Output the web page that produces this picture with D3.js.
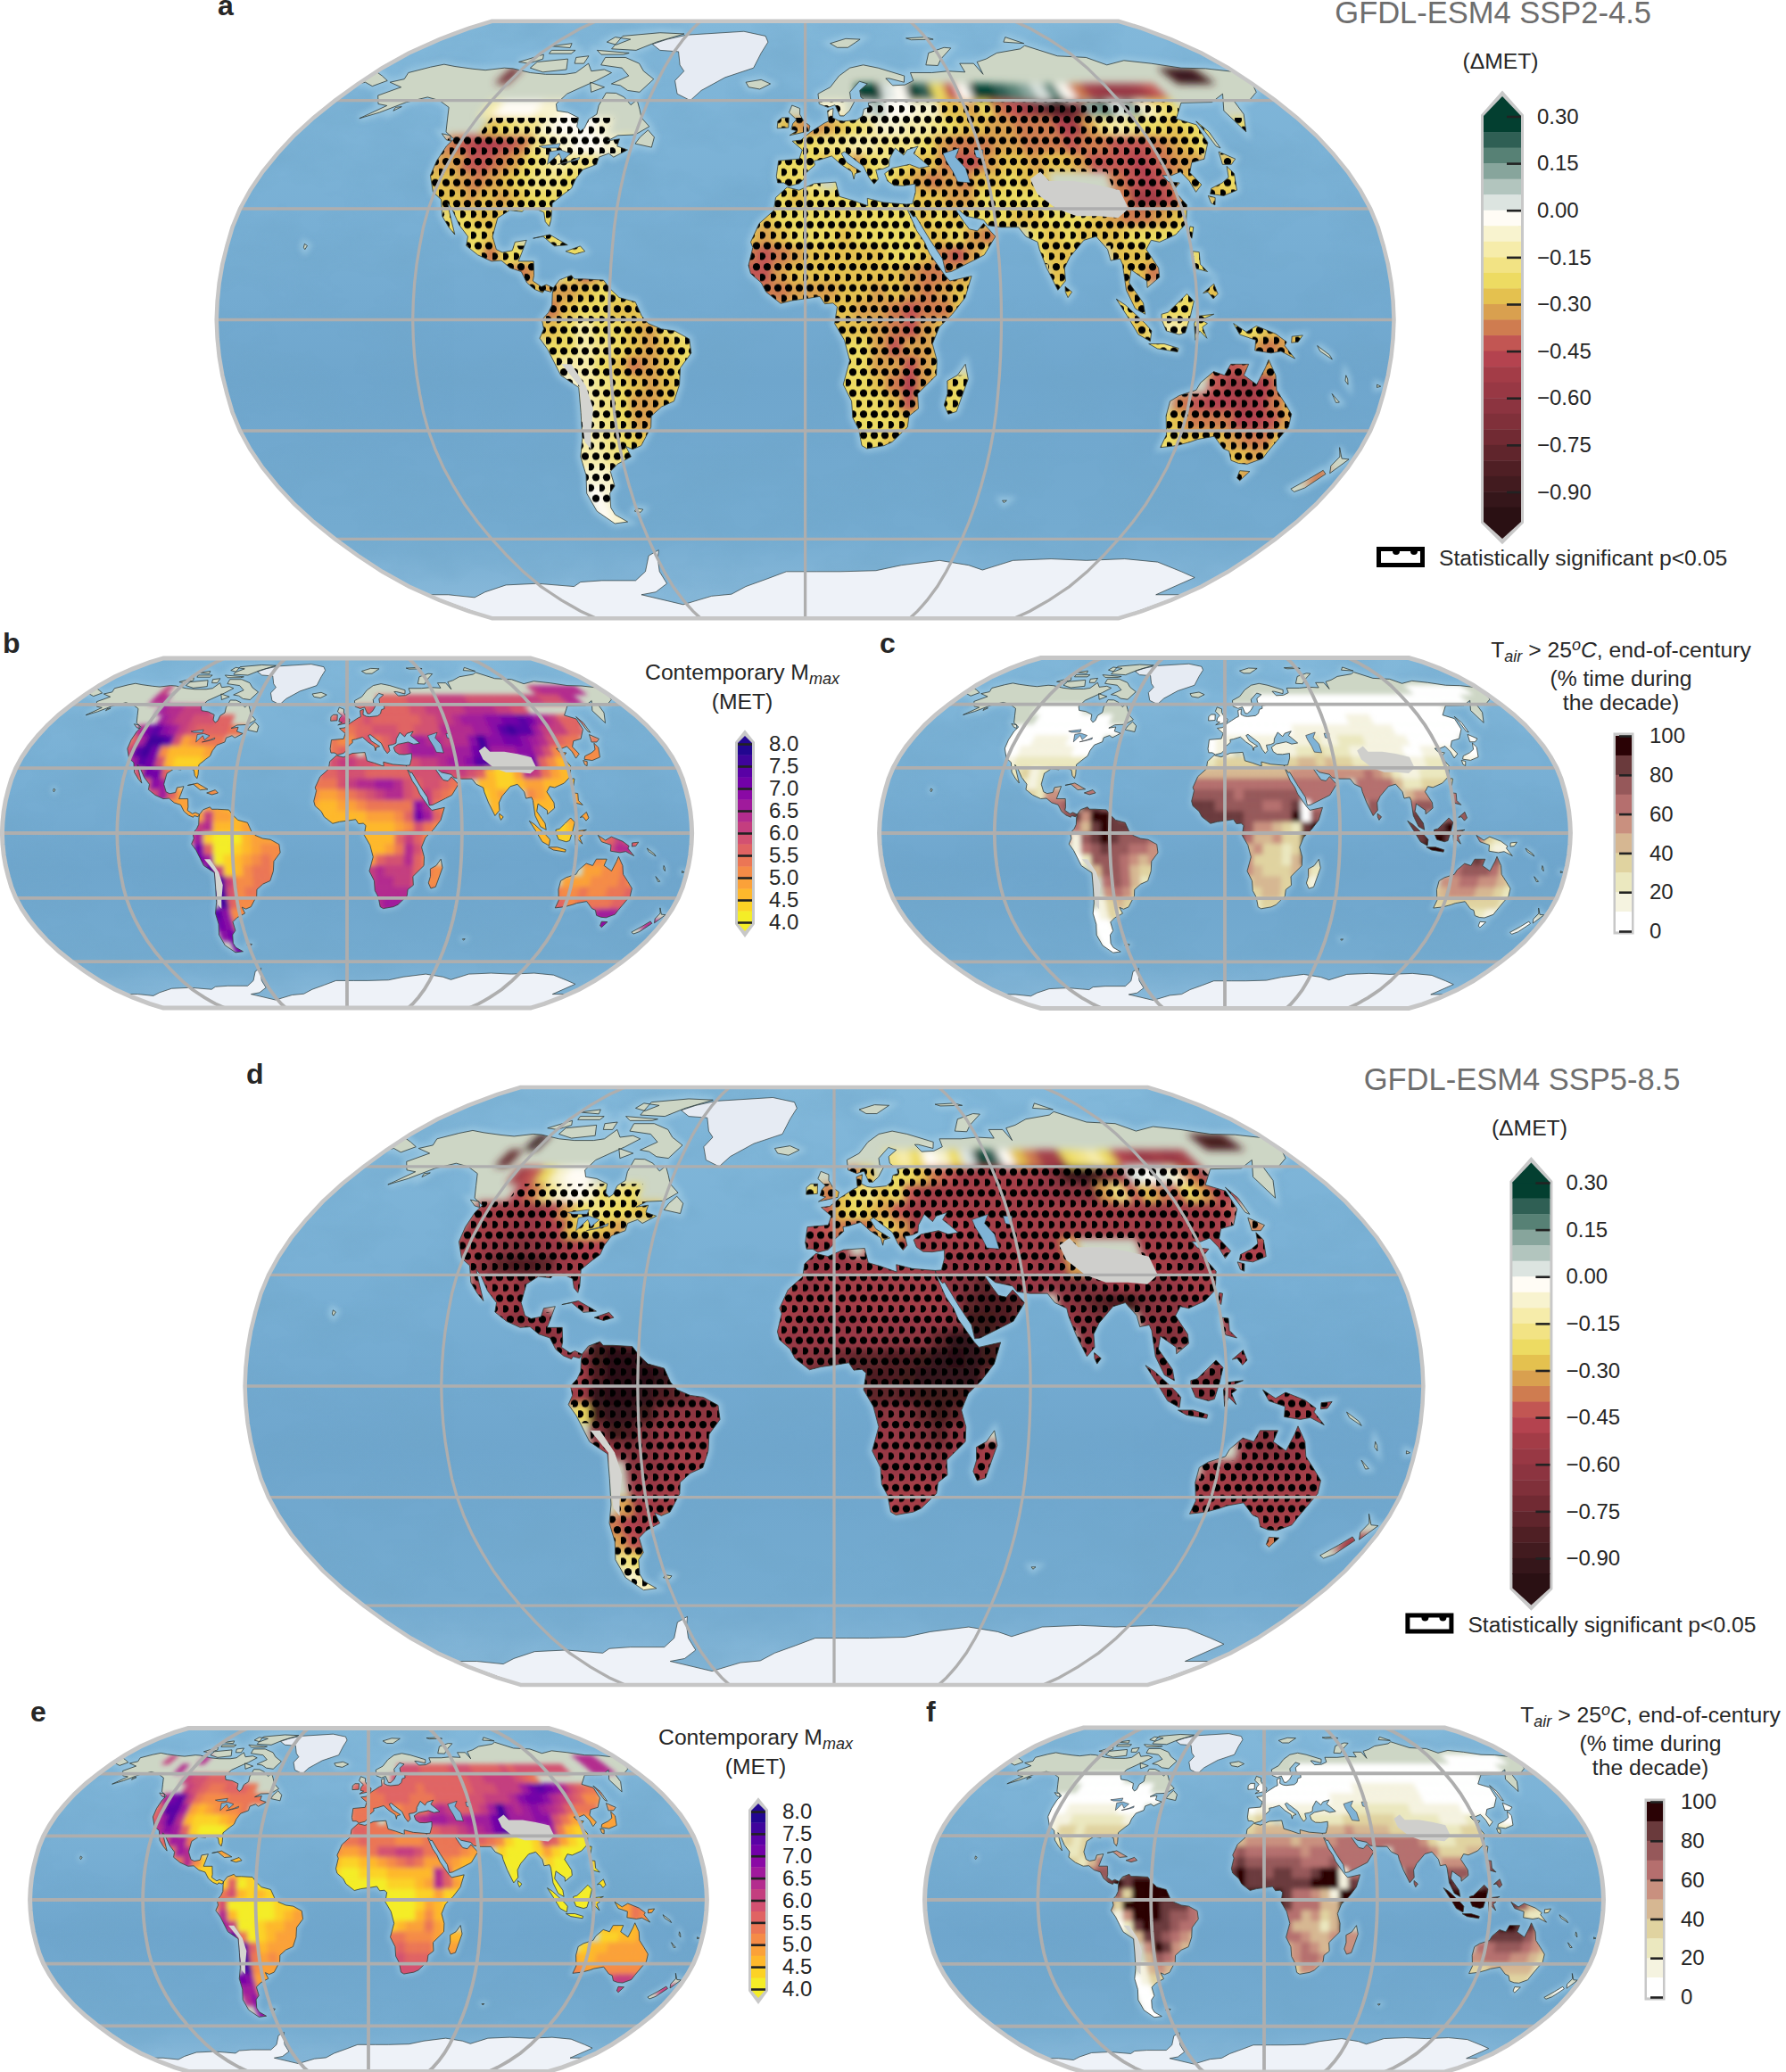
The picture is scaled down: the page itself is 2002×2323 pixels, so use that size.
<!DOCTYPE html>
<html><head><meta charset="utf-8">
<script src="https://cdnjs.cloudflare.com/ajax/libs/d3/7.8.5/d3.min.js"></script>
<style>html,body{margin:0;background:#fff}svg{display:block}text{font-family:"Liberation Sans",Arial,sans-serif;fill:#262626}</style>
</head><body><svg id="c" width="2002" height="2323"></svg>
<script>
// ---------- coastlines (lon, lat) ----------
const northAmerica=[[-168,65.5],[-164,66.5],[-166,68.5],[-160,70.3],[-156,71.2],[-150,70.5],[-141,69.7],[-135,69.3],[-128,70],[-124,69.8],[-115,68.5],[-108,68],[-100,68],[-96,68.5],[-94,71.5],[-90,69],[-85,69.5],[-81,68.5],[-85,66],[-87,65],[-93,62],[-94.5,59],[-92.5,57],[-88,56.5],[-83,55],[-82,52.5],[-80,51.2],[-79,52],[-79,54.5],[-77,56],[-78,58.5],[-78,62.3],[-74,62.2],[-70,61],[-66,58.7],[-64.5,60.2],[-62,57.5],[-60,55],[-56,52.5],[-60,50.2],[-66,50],[-69,48.5],[-65,49],[-65,47],[-61,46],[-65,44],[-67,45],[-70,44],[-70,42],[-74,40.6],[-75.5,38],[-76,35.5],[-78,34],[-81,31.5],[-80.3,27],[-80.5,25.2],[-82,26.5],[-83,29],[-85,29.7],[-89,30.2],[-90,29.2],[-94,29.6],[-97.3,27.5],[-97.8,22.5],[-96,19],[-94,18.2],[-91,18.7],[-90.5,21],[-87,21.5],[-88,18],[-88.7,15.8],[-84,15.8],[-83.5,12],[-83.7,10.5],[-81,8.9],[-79.5,9.5],[-77.3,8.6],[-78,7.5],[-80,8],[-80.5,7.3],[-83,8.2],[-85.5,10],[-87.5,13],[-91,14],[-94,16],[-97,15.8],[-101.5,17.5],[-105.5,20],[-105.5,22.5],[-109,25.7],[-112.5,30],[-114.5,31.5],[-113,29],[-109.7,23],[-112,25],[-115,28],[-117,32.5],[-120.5,34.5],[-123.8,39],[-124.3,43],[-124,47],[-123,49],[-127.5,51],[-130.5,54.5],[-134,58],[-140,60],[-146,61],[-152,59.5],[-158,56.5],[-163,54.8],[-158,58.5],[-162,59],[-166,61.5],[-161,64]];
const southAmerica=[[-77.3,8.6],[-75.5,10.8],[-72,12],[-71,11],[-68,11],[-62,10.7],[-60,8.5],[-57,6],[-52,4.8],[-50,1],[-48,-1],[-44,-2.5],[-40,-3],[-35.5,-5.2],[-35,-9],[-38.5,-13],[-39,-17.5],[-41,-22],[-45,-23.5],[-48.5,-26],[-49,-29],[-53,-34],[-56,-35],[-58,-34.2],[-57,-37],[-62,-39],[-65,-41],[-65,-45],[-67.5,-47],[-69,-51],[-68.5,-53],[-65,-55],[-70,-55.5],[-74.5,-52],[-75.5,-47],[-73.5,-42],[-73.5,-37],[-71.5,-32],[-70.5,-25],[-70.3,-18.3],[-75.5,-15],[-79,-8],[-81.3,-5],[-80,-2.5],[-80.5,0],[-78.5,2],[-77.5,4],[-77.5,7]];
const africa=[[-5.9,35.8],[-2,35],[3,36.8],[10,37.2],[11,33.3],[15,32.3],[20,30.8],[20,32.8],[25,31.7],[32.3,31.2],[32.5,29.8],[35,24],[37.2,21],[38.5,18],[43,12],[44.5,10.5],[51.2,11.8],[49,6],[45,1.5],[41,-2],[39,-6.5],[40.5,-11],[40.5,-15],[35,-20],[35.5,-24],[32.7,-26],[32.5,-29],[28,-33],[25.5,-34],[20,-34.8],[18.3,-34],[17,-29.5],[15,-26.5],[14.5,-22],[11.8,-17.5],[13.7,-11],[12,-5.5],[9,-1],[9.8,3.5],[8.5,4.5],[6,4.3],[4.5,6.3],[1,5.8],[-4,5.2],[-7.5,4.4],[-12,7.5],[-13.5,10],[-16.8,12.5],[-17.5,14.7],[-16.3,19.5],[-17,21],[-14.5,26],[-10,29.5],[-9.5,33]];
const eurasia=[[-9,37],[-9.5,38.8],[-9,43],[-2,43.5],[-1,46],[-4.5,48.4],[-1.5,48.7],[2,51],[4,52],[7,53.5],[8.5,54],[8.3,57],[10.5,57.7],[10,55],[12,54.2],[14,54],[19,54.4],[21,55.5],[22,57.5],[24,58],[24,59.3],[29,59.9],[23,60],[21.5,61],[21.5,63],[25,65],[22,65.8],[17.5,62.5],[17.5,60.5],[18.8,59.7],[16.5,57],[14.2,55.5],[12.8,55.5],[11.3,58.7],[8.5,58],[5.3,59],[5,62],[10,64],[14,67.5],[19,70],[25,71],[31,70],[41,67.5],[40,65.5],[34.5,66.7],[33,66.7],[35,64.5],[40,64.7],[44,66],[44,68.5],[53,68.5],[60,69],[67,68.7],[67,71.5],[73,71.5],[74,68],[75,72],[80,73],[87,75],[100,76.5],[104,77.7],[113,74],[125,73.5],[130,71],[140,72.5],[150,71.5],[160,70],[170,69.8],[180,68.8],[180,65],[177,62.5],[170,60],[164,60],[162,56],[156.5,51],[156,57],[163,62],[155,59.5],[143,59.3],[135.5,54.7],[141,53],[140,48],[135,43.5],[130,42.5],[127.5,39.8],[129.4,36.5],[126.5,34.5],[126,37.5],[124.5,40],[121,39],[118,39],[119,37.3],[122.5,37],[119.5,35],[122,31],[120,26],[116,23],[110.5,21],[108,21.5],[106,19],[109,14],[109,11.5],[105,8.7],[105,10.5],[100.5,13.5],[99.5,10],[103.5,4.5],[104,1.5],[101,3],[98.5,8],[98,15],[97.5,16.5],[94.5,16],[94,19],[91,22.5],[87,21.5],[82,17],[80,14],[80,10.5],[77.5,8],[74.5,14],[72.8,19],[72.5,21],[69,22.5],[67,25],[61.5,25],[57.5,25.5],[56.3,27],[51,28],[48.5,30],[48,29.5],[50,26.5],[51.5,24.5],[54,24],[56.2,26],[59.5,22.5],[55.5,17.5],[52,16],[45,13],[43.3,12.8],[42.5,16.5],[39,21.5],[35,28],[34.2,27.8],[32.6,30],[32.3,31.2],[34.3,31.3],[35.7,34.5],[36,36.7],[32,36.2],[29,36.3],[27,37.5],[26.3,39.5],[29,41],[35,42],[38,41],[41.5,41.5],[39,43.5],[37,45],[39,47],[35,46],[33.5,44.5],[31,46.5],[28.5,43.5],[28,41.5],[26,40.8],[23.5,40.5],[24,38],[22.5,36.7],[21,38.5],[19.5,41.5],[15,44.5],[13.5,45.5],[12.3,45],[14,42.5],[18.5,40],[16.5,39.5],[16,38],[15.5,40],[12,42],[9,44.3],[5,43.3],[3,43],[3.2,41.8],[0,39.5],[-0.5,38],[-2,36.8],[-5.3,36.1],[-7,37]];
const australia=[[114,-22],[116.5,-20.5],[121.5,-19],[122.5,-17],[126,-14],[129.5,-15],[131,-12],[136.5,-12],[135.5,-15],[140,-17.5],[141.8,-13],[142.5,-10.8],[145.3,-15],[146.5,-19],[150,-22.5],[153,-25.5],[153.5,-29],[150.5,-35.5],[150,-37.5],[146,-39],[143,-38.8],[140,-38],[137.8,-35.5],[135.5,-34.8],[131,-31.5],[126,-32.3],[124,-33],[120,-34],[115,-34.5],[115.5,-31],[113.7,-26]];
const islands=[
[[-80,73.5],[-72,71.5],[-68,69],[-62,66.5],[-65,62.5],[-70,63],[-74,64.5],[-78,65],[-73,67.5],[-78,70],[-88,71],[-89,73.5]],
[[-117,72],[-105,73],[-101,69.5],[-110,68.7],[-117,70]],
[[-90,76.5],[-78,76],[-72,79],[-62,82.5],[-75,83],[-92,81.5]],
[[-125,72],[-118,74.5],[-116,73],[-120,71.5]],
[[-96,76],[-80,75],[-82,74.5],[-92,74.5]],
[[-117,76],[-106,76],[-106,74.8],[-116,74.8]],
[[-87,65.5],[-80,64],[-84,62.5]],
[[-102,73.5],[-97,74],[-96,71.5],[-100,71.5]],
[[-95,81],[-86,80],[-90,78],[-96,79]],
[[-120,77.5],[-112,78.5],[-110,76.9]],
[[-154,58],[-152,58.2],[-153.5,57]],
[[-180,68.8],[-175,67.5],[-170,66],[-173,64.3],[-178,65.5],[-180,65]],
[[50,80.5],[60,81],[63,80],[52,79.8]],
[[-59,47.7],[-53,46.7],[-53,49.5],[-56,51.5],[-58,49.5]],
[[-85,22],[-80,23],[-74,20.2],[-78,19.9],[-82,22.5]],
[[-74.4,18.5],[-70,19.9],[-68.4,18.5],[-71.5,17.7]],
[[-156,20.5],[-155,20],[-155.5,19],[-156,19.5]],
[[-128.5,50.5],[-125,50],[-123.5,48.4],[-125.5,48.8]],
[[-60,-51.2],[-57.8,-51.5],[-59,-52.3],[-61,-52]],
[[49.3,-12],[50.4,-16],[47.5,-24.8],[45,-25.5],[43.5,-23],[44.3,-20],[44,-16.5],[47,-15]],
[[-5.5,50],[1.3,51.2],[1.7,52.7],[-0.5,54],[-2,56],[-2,57.7],[-5,58.6],[-6,56.5],[-3.2,54.5],[-4.5,53.3],[-5,51.7],[-3,51.3]],
[[-10,52],[-6,52.2],[-6,55],[-8.5,55],[-10,54]],
[[-24,65.5],[-18,66.3],[-14,65],[-18,63.4],[-22.5,64]],
[[12,78.5],[20,80.3],[27,80],[20,77],[15,77]],
[[52,71],[57,70.8],[60,73],[68,76.8],[65,77],[56,75]],
[[96,79],[105,78.5],[100,81]],
[[142,54],[143.3,51],[143,46.5],[142,47],[142,51]],
[[130.9,34],[135,33.5],[140,35],[142,39.5],[141,41.5],[139.5,38.5],[136.5,37],[132,35.5]],
[[140,42],[141.5,45.5],[145.5,43.5],[143,42]],
[[130,33.5],[132,33],[131,31],[130,31.5]],
[[120,23],[121,25.2],[122,25],[120.8,22]],
[[79.8,9],[81.8,7.5],[80.5,6],[79.8,7.5]],
[[95.3,5.6],[98,4],[104,-1],[106,-3],[105.7,-5.8],[102,-4],[98.5,1]],
[[105.3,-6.5],[110,-6.5],[114.5,-7.7],[114.3,-8.7],[108,-7.8]],
[[109,1.5],[111,2],[114,4.5],[117,7],[119,5],[117.8,1],[116.3,-3.5],[114.5,-4],[110.5,-3],[109,0]],
[[119.5,-5.5],[119,-1],[120,1],[125,1.5],[121,0],[123,-1],[121.5,-2],[123,-5],[120.7,-3]],
[[120.3,18.5],[122.3,18.3],[122,15],[124,13],[120.7,13.8],[120,16]],
[[122,7.2],[125.5,9.7],[126.5,7],[125,5.7],[123.5,7.5]],
[[131,-1],[135,-3.3],[138,-1.7],[144,-3.8],[147.5,-6],[147,-7],[150.5,-10.5],[146,-8.5],[143,-9],[138,-8.3],[138,-5.5],[133,-4]],
[[144.8,-40.8],[148.3,-41],[147,-43.5],[145.5,-42.8]],
[[173,-34.5],[176,-37.5],[178.5,-37.7],[175.5,-41.5],[174,-39.5],[175,-37]],
[[172.5,-40.7],[174.3,-41.7],[171,-45.5],[168.5,-46.6],[166.5,-45.8],[170,-43]],
[[149,-4.5],[152.3,-4.2],[151,-6],[149,-6.2]],
[[157,-7],[161,-9.5],[162,-10.7],[158,-8.5]],
[[164,-20],[167,-22.3],[166,-22.4]],
[[167,-15],[167.8,-16],[168.3,-17.5],[167.2,-16.5]],
[[177.3,-17.5],[178.6,-18],[177.5,-18.3]],
[[69,-49],[70.5,-49],[69.8,-49.6]]
];
const greenland=[[-73,78.2],[-67,76],[-58,75.5],[-54,71],[-51,69],[-53,66],[-50,62],[-44,60],[-41,63],[-33,67],[-22,70],[-20,75],[-18,79],[-20,81.5],[-32,83.6],[-60,82],[-68,80]];
const antarctica=[[-180,-78],[-170,-78],[-160,-79],[-150,-77],[-135,-74.5],[-120,-74],[-105,-75],[-100,-73.5],[-90,-73],[-75,-73],[-68,-70],[-63,-65],[-58,-63.3],[-60,-66],[-62,-70],[-62,-74],[-70,-77],[-78,-78],[-62,-82],[-45,-78.5],[-35,-77.8],[-27,-75],[-17,-72.5],[-8,-70],[5,-70],[15,-70],[30,-69.7],[40,-68],[55,-66.5],[68,-68],[75,-69.5],[85,-66.5],[100,-66],[115,-66.5],[130,-66],[145,-67],[160,-70],[170,-72],[167,-78],[180,-78],[180,-90],[-180,-90]];
const inlandWater=[
[[47,45],[53,46.5],[51,44],[53.5,41],[54,37],[50,37.3],[49,40],[47.5,43]],
[[58,46],[61,46],[60,43.5],[58,44]],
[[-92,47],[-85,47.8],[-85,46.5],[-90,46.5]],
[[-87.5,45.5],[-84,46],[-80,45],[-82,43],[-84,45],[-86.5,42]],
[[-83,42],[-79,43],[-76.5,44],[-76.5,43.3],[-80,42.5]]
];
const tibet=[[74,38],[78,40],[80,37.5],[88,37.5],[95,36.5],[102,35],[103,30],[99,27.5],[93,28],[86,28],[80,30],[75,34]];
const andes=[[-75,-12],[-72,-12],[-68,-18],[-66.5,-24],[-68.5,-31],[-69.5,-35],[-71,-33],[-70.5,-26],[-70,-18]];

// ---------- cell values: "topLat lon:letters ..." on a 5 degree grid ----------
const cellsA=["70 -125:u 150:xyx","65 20:aafgab 50:kogaabcdfcgnqrrrqo","60 -120:iggghhg 5:hh 20:fegghhllmknoqtwwtdcfdhjk","55 -115:lkjjhgggh -10:lmnmlkjhhiijkllmmnnnpqmjijkklkk 155:k","50 -125:nopponjihgghi -5:kkjjiijjjkmnnnmmnnnonnooonmlk","45 -125:mmoonmkjijj -10:kkklkmkjkllnoomllmllmoooponmm 140:l","40 -125:llmnmlkjjkk -10:kkj 10:kkkklmnmnllkll 100:nopomllkk","35 -120:llmlmlkkk -10:klkkkkkkkllmmkkkkk 100:nqqom 130:ll","30 -115:kkllkkkl -15:lkkkkkkkkklklkkkllkkklmnnmlk","25 -115:kkklk -85:kkk -20:lmlkkklkkkkllkmnm 70:klklllkkk 115:kk","20 -105:knkkl -75:kk -20:nonmlllllkklnomk 70:kllk 95:lllk 120:k","15 -95:mnm -75:kom -20:oomlllllllmnnml 75:ll 95:lln 120:kk","10 -85:lm -75:mlkkk -15:nnmmmllmlmnmll 75:kl 95:ml 115:kll","5 -80:nlkkllk -10:mlmllmmnonnl 95:klkkkkl","0 -85:llkikklmkj 5:lllmnoml 95:kljijk 130:kklmk","-5 -80:kkijklmlkk 10:kkmommk 100:kkjjk 130:kmnmk","-10 -80:jiiklnmlkk 10:kkmmomk 105:kkkkoonmlk","-15 -75:hijklmlk 10:kklnpml 45:kk 125:oqqpn","-20 -70:ijkmmlk 10:kkklol 40:kk 115:noppqpnl","-25 -75:hijkmmk 10:kkkklk 40:kl 110:klnnnppom","-30 -75:iijklk 15:kkll 110:kklllmnnl","-35 -75:iijkj 15:kkmk 115:ijjkllmk","-40 -75:hhij 140:kmk 170:n","-45 -75:ghi 145:k","-50 -75:ghi","-55 -75:hh"];
const cellsB=["70 -130:i 130:ijjjjjj","65 -130:jj 20:gggghhhhiiiihhhhhhhhiihhh 145:jj","60 -120:kjjiiii 5:ggh 20:gggghhiiiiijjjjiihh","55 -115:kjiihhhgg -10:gigghgggggghhiijkkkllmmnmkjiggg","50 -125:jmnlkihggggff -5:ffgghhhgghhhjjjjkklnonnkiiigg","45 -125:gkoonhdefff -10:feeghfghikkjjijjlollmmlkjhgff 140:f","40 -125:hnomeccccde -10:fgg 10:ffghikkkjjkkmo 80:kkkl 100:ljheeeeee","35 -120:knmhcbbbc -10:hiihhgggghiijkklnn 100:mgecc 130:ee","30 -115:hmmgcccc -15:gghhhggggghhhihihgcbbdjifdcc","25 -115:eglkd -85:ddd -20:fffhijjkkjhghhgff 70:ccbbcddcc 115:cc","20 -105:hkgdd -75:ee -20:eddefghijjhgigfe 70:bcdc 95:edcc 120:d","15 -95:ddd -75:ddc -20:dccddefffffljfe 75:cc 95:ccc 120:dd","10 -85:dd -75:iddcc -15:cccccdddegmkge 75:cc 95:cc 115:ddd","5 -80:ijcccdd -10:cccccccdehfe 95:cccbcdd","0 -85:hkbaaacddd 5:ccccgige 95:cccbbd 130:egigf","-5 -80:mgaabcdeee 10:ccdfjhe 100:cdccd 130:ehjjg","-10 -80:mkabcdefee 10:dghhjge 105:cdddeedeff","-15 -75:oibceffe 10:ijiiigf 45:ee 125:ddeef","-20 -70:oieefff 10:ijjiig 40:ee 115:dddeeefe","-25 -75:ooheffe 10:jjjjjh 40:ff 110:feefeeffg","-30 -70:ogeee 15:jkkj 110:fgeffffgg","-35 -75:nleed 15:ijji 115:ihhhjkkj","-40 -75:mlfe 140:klk 170:jj","-45 -75:lmi 145:j","-50 -70:mk","-55 -70:m"];
const cellsC=["70 130:aaaaaaaa","65 20:aaaaaaaaaaaaaaaaaaaaaaaaaaaa","60 -120:aaaaaa 5:aaa 20:aaaaaaaaaaaaaaaaaaaaaaaa","55 -115:aaaaaaaaa -10:aaaaaaaaaaaaaaaaabbbaaaaaaaaaaaaa","50 -125:aaaaaaaaaaaaa -5:baaaaaaaabbbbbbbbbbbbaaaaaaaaaaa","45 -125:aaabbbbaaaa -10:abbbbbbbbbbbcbbcccbbbbbaaaaaa 140:a","40 -125:aabbbbbbaaa -10:abb 10:bbbbbbccdcccbb 80:bbbb 100:aabbbbbaa","35 -120:bcccccccc -10:cdddddddddeededdc 75:c 100:bbccc 130:bb","30 -115:cdbcdddd -15:eeeeeeeeeeffffffffgfecbbcccd","25 -115:dcbce -85:fff -20:ggggggggggggggggf 70:ggggeccdd 115:dd","20 -105:dcfff -75:gg -20:hhhhhghhhhhhgggg 70:gggg 95:efff 120:g","15 -95:ggh -75:iih -20:iiihhhhhgghiagg 75:hh 95:ghh 120:hh","10 -85:hi -75:fjjih -15:iiiiihhhhhjahh 75:hh 95:ii 115:hhh","5 -80:geijiii -10:iihihffedcij 95:iiiijhh","0 -85:fbhijihhhg 5:igeefddj 95:iijjig 130:gdcbc","-5 -80:bghihhggff 10:efddcdj 100:jjjih 130:fcbbc","-10 -80:achhhgfefe 10:fdddcei 105:jjighihhed","-15 -70:ehhgedd 10:fedddee 45:cc 120:ghhhge","-20 -65:ghgecd 10:deeedd 40:cb 115:ffggffed","-25 -65:fgfdc 10:cdeedc 40:cb 110:defffeedc","-30 -70:bdedc 15:cddc 110:cdddddddc","-35 -75:abdcc 15:bcbb 115:bcccccbb","-40 -75:aabb 140:baa 170:aa","-45 -75:aaa 145:a 165:aaa","-50 -75:aaa","-55 -75:aa"];
const cellsD=["70 -125:y 150:wxw","65 -130:v 20:jikgh 45:kfa 60:bgk 70:lnqq 90:kj 100:ik 110:pqrqrq","60 -120:qokhgg 5:nl 20:kklnoqqqqqqrtxyxtqfgfhnq","55 -115:pnjhghkjk -10:knlkjlkoqqqqqqqqrrsstmjolnokmpq","50 -125:qqqqrpmkjkkll -5:olklmoqqqqqqqqqqqqqqqqqrqqqqo","45 -125:qqqrrqplklm -10:ponpnkmqqqpqqqqqqqqqqqqrqqqqp 140:n","40 -125:qqrstsrqppo -10:qqq 10:omqqqqqqrqqqqm 100:qqqqqqppq","35 -120:qsvwwvrqq -10:rrrqqrqqrrrrrqqrqm 100:qqrrq 130:qq","30 -115:qqqssrrq -15:qrqqqqqqqqstvvsrrstsrqrsrqqq","25 -115:pqqrr -85:rrr -20:pqqqqqqqqqqrvwwvt 70:stvwxtssrqq","20 -105:rsrrr -75:sr -20:pqrrrrqrrrrsxxwv 70:rstt 95:sssr 120:r","15 -95:ssr -75:wxv -20:qrrrrrrsssvyyxw 75:ss 95:sts 120:rr","10 -85:rs -75:xzzyw -15:sstuvvwwxyzyxw 75:rr 95:tt 115:ssr","5 -80:qwzzzyw -10:vvvwwwxyyyyv 95:sssstrq","0 -85:rqyzzywvts 5:vvvwxxxw 95:stsssr 130:qqqqq","-5 -80:kxyyxtsssr 10:tstvxvs 100:ssrrr 130:qqqqq","-10 -75:txwtrrrrq 10:rrstvsr 105:rrrr 125:sssrqq","-15 -75:qstsrqqq 10:rrrstrr 45:qq 125:rssrq","-20 -65:ssrqqq 10:qrrrsq 40:qq 115:qqrrrrqq","-25 -65:rrqqq 10:qqqqqq 40:qq 110:qqqqqqqqq","-30 -70:mqqqp 15:pqqq 110:qqqqqqqqq","-35 -75:npqpl 15:mopo 115:nopqqqqp","-40 -75:moql 140:onm 170:qq","-45 -75:jkm 145:k","-50 -75:hil","-55 -75:hh"];
const cellsE=["70 -145:i -120:j 150:jjj","65 -130:j 20:hhhgggghhhgggghghhhhhhh 150:jjj","60 -120:ihhgggg 15:h 20:ggggggggghhiiiihgf","55 -115:ihgffgggf -10:ggfgggggfgggggghhhiiikmnmljhgfff","50 -125:jmnifeeefffff -5:fffgggfffgggghhiiijlmmljihgee","45 -125:gnnkdcdeeef -10:fffffefffijigghikokjklkjigfff 140:e","40 -125:gknjcbbbcde -10:fff 10:eefijkkjjkkkmo 80:kkkl 100:lhfdddddd","35 -120:jlkgbaaab -10:ggfffefffghhijjkmn 100:kfcbb 130:dd","30 -115:gkkfbbbc -15:ffgfffeeeffffgggfebaabhgdbab","25 -115:dfkjc -85:ddc -20:eddefhhiihffffedd 70:baaabdbaa 115:ab","20 -105:fjebb -75:cc -20:cbbccdefgfddedcc 70:aaaa 95:baaa 120:b","15 -95:bbb -75:cbb -20:baabbbcccccjgcb 75:aa 95:aaa 120:ab","10 -85:bb -75:gabaa -15:aaaaabbbcdjgdb 75:aa 95:aa 115:aab","5 -80:fhcbcbb -10:aaaaaaabbdbb 95:aaaaaab","0 -85:dhaaaaabbc 5:aaaabdcb 95:aaaaab 130:cdfec","-5 -80:jcaaaabcdd 10:aaacecb 100:aaaab 130:cdfed","-10 -80:kiaabccddc 10:bcddfdc 105:bbbbccbcdd","-15 -75:nfabcddd 10:ffeeedc 45:cc 125:bbccd","-20 -70:ngcdddd 10:fgfffd 40:dd 115:bccddddd","-25 -75:mofdedd 10:ghggge 40:ee 110:dccdddddd","-30 -70:oeddd 15:hhhg 110:eeddeeeee","-35 -75:mlddc 15:hhig 115:hggfhiih","-40 -75:kked 140:iii 170:ii","-45 -75:jlg 145:h","-50 -70:lj","-55 -70:l"];
const cellsF=["70 130:aaaaaaaa","65 20:aaaaaaaaaaaaaaaaaaaaaaaaaaaa","60 -120:aaaaaa 5:aaa 20:aaaaaaaaaaaaaaaaaaaaaaaa","55 -115:aaaaaaaaa -10:aaaaaaaaaaaaabbbbbbbbaaaaaaaaaa","50 -125:aaaaaaaaaaaaa -5:baaaaaaaabbbbbbbbbbbaaaaaaaaaaa","45 -125:aabbbbbbaaa -10:abbbbbbbbbbbcccccccbbbbbbaaaa 140:a","40 -125:abbccccccbb -10:cdc 10:cccccccddddddc 80:cccc 100:bbbcbbbaa","35 -120:bddcddddd -10:deeeeeeeeeefeeeedd 100:ccddd 130:cc","30 -115:cdcdeeee -15:efffffeffffgggggggggfdccdddd","25 -115:dccde -85:ffg -20:ghggggggfgggggggg 70:ggggfddde 115:ee","20 -105:dcegg -75:gg -20:hihhhhhhggghgggg 70:gggg 95:ffff 120:h","15 -95:ghh -75:iii -20:ijiihiihhijjbgg 75:hh 95:hhh 120:ih","10 -85:ij -75:ijjjj -15:jiiiiiiijjjbii 75:hh 95:ji 115:iih","5 -80:hdjjjjj -10:jjijiggfebjj 95:jjjjjih","0 -85:hdjjjjiiig 5:jigggeej 95:jjjjjh 130:ihecd","-5 -80:bfjjjihhgf 10:ggefdej 100:jjjji 130:hdccd","-10 -80:acijiihgge 10:geeecei 105:jjjhjjiife","-15 -70:eiihgfe 10:ggfeeff 45:ff 120:iiiihf","-20 -65:fjifee 10:efgfee 40:ff 115:gghhhgfe","-25 -65:ehgfe 10:efggfc 40:fg 110:ffgggffed","-30 -70:befec 15:dffd 110:dddeeeeec","-35 -75:abddb 15:bccb 115:cccddddc","-40 -75:aacb 140:bbb 170:aa","-45 -75:aaa 145:a","-50 -75:aaa","-55 -75:aa"];

// ---------- colour bars ----------
const deltaLevels=[0.30,0.25,0.20,0.15,0.10,0.05,0,-0.05,-0.10,-0.15,-0.20,-0.25,-0.30,-0.35,-0.40,-0.45,-0.50,-0.55,-0.60,-0.65,-0.70,-0.75,-0.80,-0.85,-0.90,-0.95];
const deltaColors=["#033f30","#2f5f54","#578175","#87a59c","#b2c5be","#dce4e0","#fffcf5","#f8f3cf","#f6ecaa","#f2e384","#eddb62","#e4c14f","#d9a04f","#cf7c50","#c25653","#b4434f","#a33c47","#983844","#8c3440","#80303a","#712a33","#60252c","#4f1f24","#421b1f","#35161a","#2a1013"];
const deltaTicks=[0.30,0.15,0,-0.15,-0.30,-0.45,-0.60,-0.75,-0.90];
const mmaxLevels=[8,7.75,7.5,7.25,7,6.75,6.5,6.25,6,5.75,5.5,5.25,5,4.75,4.5,4.25,4];
const mmaxTicks=[8,7.5,7,6.5,6,5.5,5,4.5,4];
const pctLevels=[100,90,80,70,60,50,40,30,20,10,0];
const pctColors=["#2a0205","#6a3a3c","#96585a","#b56f6e","#c9907f","#d6b792","#e0d3a0","#ebe8bf","#f5f3e0","#ffffff"];
const pctTicks=[100,80,60,40,20,0];
const lonLines=[-120,-60,0,60,120];
const latLines=[-60,-30,0,30,60];
const robX=[1,.9986,.9954,.99,.9822,.973,.96,.9427,.9216,.8962,.8679,.835,.7986,.7597,.7186,.6732,.6213,.5722,.5322];
const robY=[0,.062,.124,.186,.248,.31,.372,.434,.4958,.5571,.6176,.6769,.7346,.7903,.8435,.8936,.9394,.9761,1];

const svg=d3.select("#c");
const defs=svg.append("defs");
const pat=defs.append("pattern").attr("id","dots").attr("patternUnits","userSpaceOnUse").attr("width",12).attr("height",23.6);
pat.selectAll("circle").data([[8,16],[2,4.2]]).join("circle").attr("cx",d=>d[0]).attr("cy",d=>d[1]).attr("r",4.1).attr("fill","#000");
const blur=defs.append("filter").attr("id","soft").attr("x","-5%").attr("y","-5%").attr("width","110%").attr("height","110%");
blur.append("feGaussianBlur").attr("stdDeviation",3);
[["cellBig",4],["cellSmall",2.6]].forEach(f=>{
  defs.append("filter").attr("id",f[0]).attr("x","-3%").attr("y","-3%").attr("width","106%").attr("height","106%")
    .append("feGaussianBlur").attr("stdDeviation",f[1]);
});
const tex=defs.append("filter").attr("id","tex").attr("x",0).attr("y",0).attr("width","100%").attr("height","100%");
tex.append("feTurbulence").attr("type","fractalNoise").attr("baseFrequency","0.012 0.02").attr("numOctaves",4).attr("seed",7);
tex.append("feColorMatrix").attr("values","0 0 0 0 0.16  0 0 0 0 0.38  0 0 0 0 0.58  1.6 0 0 0 -0.62");
const oceanGrad=defs.append("linearGradient").attr("id","oceanG").attr("x1",0).attr("x2",0).attr("y1",0).attr("y2",1);
[[0,"#82b8da"],[.35,"#78afd4"],[.6,"#6fa6cd"],[.85,"#74abd0"],[1,"#8cbcdc"]].forEach(s=>oceanGrad.append("stop").attr("offset",s[0]).attr("stop-color",s[1]));

const decode={
  delta:c=>0.275-0.05*(c.charCodeAt(0)-97),
  mmax:c=>4.125+0.25*(c.charCodeAt(0)-97),
  pct:c=>5+10*(c.charCodeAt(0)-97)
};
function deltaColor(v){const i=d3.bisectLeft(deltaLevels.map(x=>-x),-v)-1;return deltaColors[Math.max(0,Math.min(deltaColors.length-1,i))];}
function mmaxColor(v){return d3.interpolatePlasma(1-(v-4)/4);}
const pctScale=d3.scaleThreshold().domain(d3.range(10,100,10)).range(pctColors.slice().reverse());

function parseCells(rows){
  const out=[];
  rows.forEach(r=>{const p=r.split(" ");const top=+p[0];
    p.slice(1).forEach(seg=>{const k=seg.indexOf(":",1);const lon0=+seg.slice(0,k);
      [...seg.slice(k+1)].forEach((c,i)=>out.push({top,lon:lon0+5*i,c}));});});
  return out;
}
function rect(d){return {type:"Polygon",coordinates:[[[d.lon,d.top],[d.lon+5,d.top],[d.lon+5,d.top-5],[d.lon,d.top-5],[d.lon,d.top]]]};}
const closed=r=>r.concat([r[0]]);
const poly=r=>({type:"Polygon",coordinates:[closed(r)]});
const landRings=[northAmerica,southAmerica,africa,eurasia,australia].concat(islands);
const land={type:"MultiPolygon",coordinates:landRings.map(r=>[closed(r)])};
const pathRing=d3.range(-90,90.01,5).map(a=>[-180,a]).concat(d3.range(90,-90.01,-5).map(a=>[180,a]));

function panel(id,cx,cy,R,rows,mode,sig){
  const xS=d3.scaleLinear(d3.range(0,91,5),robX), yS=d3.scaleLinear(d3.range(0,91,5),robY);
  const tr=d3.geoTransform({point(lon,lat){const a=Math.abs(lat);
    this.stream.point(cx+R*.8487*xS(a)*lon*Math.PI/180, cy-R*1.3523*yS(a)*Math.sign(lat));}});
  const path=d3.geoPath(tr);
  const g=svg.append("g");
  defs.append("clipPath").attr("id","s"+id).append("path").attr("d",path(poly(pathRing)));
  defs.append("clipPath").attr("id","l"+id).append("path").attr("d",path(land));
  const inner=g.append("g").attr("clip-path",`url(#s${id})`);
  inner.append("path").attr("d",path(poly(pathRing))).attr("fill","url(#oceanG)");
  inner.append("rect").attr("x",cx-R*2.7).attr("y",cy-R*1.36).attr("width",R*5.4).attr("height",R*2.72).attr("filter","url(#tex)").attr("opacity",.55);
  inner.append("path").attr("d",path(land)).attr("fill","none").attr("stroke","#9cc9e3").attr("stroke-width",R/30).attr("filter","url(#soft)").attr("opacity",.8);
  inner.append("path").attr("d",path(land)).attr("fill","#cdd6c5");
  inner.append("path").attr("d",path(poly(greenland))).attr("fill","#e6ebf3");
  inner.append("path").attr("d",path(poly(antarctica))).attr("fill","#eef2f8");
  const cells=parseCells(rows);
  const colour=mode==="delta"?deltaColor:mode==="mmax"?mmaxColor:pctScale;
  const cg=inner.append("g").attr("clip-path",`url(#l${id})`);
  cg.append("g").attr("filter",R>200?"url(#cellBig)":"url(#cellSmall)")
    .selectAll("path.cell").data(cells).join("path").attr("class","cell").attr("d",d=>path(rect(d)))
    .attr("fill",d=>colour(decode[mode](d.c))).attr("stroke",d=>colour(decode[mode](d.c))).attr("stroke-width",.6);
  if(sig){
    const sc=cells.filter(sig);
    cg.append("path").attr("d",sc.map(d=>path(rect(d))).join("")).attr("fill","url(#dots)");
  }
  inner.append("path").attr("d",path(poly(tibet))).attr("fill","#cfcfcc");
  inner.append("path").attr("d",path(poly(andes))).attr("fill","#d4d4d0");
  inner.selectAll("path.water").data(inlandWater).join("path").attr("class","water").attr("d",d=>path(poly(d))).attr("fill","#7fb3d6").attr("stroke","#333").attr("stroke-width",.6);
  inner.append("path").attr("d",path(land)).attr("fill","none").attr("stroke","#2d3a3a").attr("stroke-width",.8);
  inner.append("path").attr("d",path(poly(greenland))).attr("fill","none").attr("stroke","#2d3a3a").attr("stroke-width",.7);
  inner.append("path").attr("d",path(poly(antarctica))).attr("fill","none").attr("stroke","#2d3a3a").attr("stroke-width",.7);
  const grat={type:"MultiLineString",coordinates:
    lonLines.map(l=>d3.range(-90,90.01,2.5).map(a=>[l,a])).concat(latLines.map(a=>d3.range(-180,180.01,10).map(l=>[l,a])))};
  inner.append("path").attr("d",path(grat)).attr("fill","none").attr("stroke","#aeaeae").attr("stroke-width",R>200?3.3:3.8);
  g.append("path").attr("d",path(poly(pathRing))).attr("fill","none").attr("stroke","#c6c6c6").attr("stroke-width",R>200?4.5:5);
}

function label(t,x,y){svg.append("text").attr("x",x).attr("y",y).attr("font-size",32).attr("font-weight",700).text(t);}
function txt(t,x,y,anchor,size,fill){const e=svg.append("text").attr("x",x).attr("y",y).attr("text-anchor",anchor||"middle").attr("font-size",size||24.7).text(t);if(fill)e.style("fill",fill);return e;}

function bar(x0,x1,y,levels,colors,ticks,fmt,tickLen,padding,tipTop,tipBot,top,bot){
  const g=svg.append("g");
  const xm=(x0+x1)/2;
  const framePts=(tipTop!=null)?[[x0,top],[xm,tipTop],[x1,top],[x1,bot],[xm,tipBot],[x0,bot]]:[[x0,top],[x1,top],[x1,bot],[x0,bot]];
  g.append("path").attr("d",d3.line()(framePts)+"Z").attr("fill","#fff").attr("stroke","#c8c8c8").attr("stroke-width",tipTop!=null?6:5);
  g.selectAll("rect").data(colors).join("rect").attr("x",x0).attr("width",x1-x0)
    .attr("y",(d,i)=>y(levels[i])).attr("height",(d,i)=>y(levels[i+1])-y(levels[i])+.4).attr("fill",d=>d);
  if(tipTop!=null){
    g.append("path").attr("d",d3.line()([[x0,y(levels[0])+.4],[x0,top],[xm,tipTop+2],[x1,top],[x1,y(levels[0])+.4]])+"Z").attr("fill",colors[0]);
    const lastY=y(levels[levels.length-1]);
    g.append("path").attr("d",d3.line()([[x0,lastY-.4],[x0,bot],[xm,tipBot-2],[x1,bot],[x1,lastY-.4]])+"Z").attr("fill",colors[colors.length-1]);
  }
  const ax=d3.axisRight(y).tickValues(ticks).tickFormat(fmt).tickSizeInner(-tickLen).tickSizeOuter(0).tickPadding(padding);
  const a=g.append("g").attr("transform",`translate(${x1},0)`).call(ax);
  a.select(".domain").remove();
  a.selectAll("line").attr("stroke","#222").attr("stroke-width",2.6);
  a.selectAll("text").attr("font-size",24).attr("font-family","Liberation Sans").style("fill","#262626");
  return g;
}

function deltaPanel(dx,dy,title){
  txt(title,1851+dx,26+dy,"end",34.5,"#6e6e6e");
  txt("(\u0394MET)",1682+dx,77+dy);
  const y=d3.scaleLinear([0.30,-0.95],[130.5+dy,569+dy]);
  bar(1663+dx,1705+dx,y,deltaLevels,deltaColors,deltaTicks,d3.format(".2f"),16,18,106+dy,606+dy,130+dy,585+dy);
  svg.append("rect").attr("x",1545.5+dx).attr("y",615.5+dy).attr("width",49).attr("height",18).attr("fill","#fff").attr("stroke","#000").attr("stroke-width",5);
  svg.selectAll(null).data([1565+dx,1585+dx]).enter().append("circle").attr("cx",d=>d).attr("cy",618+dy).attr("r",4).attr("fill","#000");
  txt("Statistically significant p<0.05",1613+dx,634+dy,"start");
}
function mmaxPanel(cxT,yT,x0,y8,y4){
  const t=txt("",cxT,yT);
  t.append("tspan").text("Contemporary M");
  t.append("tspan").attr("font-size",18).attr("font-style","italic").attr("dy",5).text("max");
  txt("(MET)",cxT,yT+33);
  const y=d3.scaleLinear([8,4],[y8,y4]);
  const cols=d3.pairs(mmaxLevels).map(p=>mmaxColor((p[0]+p[1])/2));
  bar(x0,x0+16,y,mmaxLevels,cols,mmaxTicks,d3.format(".1f"),16,19,y8-11,y4+12,y8-1,y4+1);
}
function pctPanel(cxT,y1,x0,y100,y0){
  const t=txt("",cxT,y1);
  t.append("tspan").text("T");
  t.append("tspan").attr("font-size",18).attr("font-style","italic").attr("dy",5).text("air");
  t.append("tspan").attr("dy",-5).text(" > 25");
  t.append("tspan").attr("font-size",18).attr("font-style","italic").attr("dy",-8).text("o");
  t.append("tspan").attr("font-style","italic").attr("dy",8).text("C");
  t.append("tspan").text(", end-of-century");
  txt("(% time during",cxT,y1+32);
  txt("the decade)",cxT,y1+59);
  const y=d3.scaleLinear([100,0],[y100,y0]);
  bar(x0,x0+18,y,pctLevels,pctColors,pctTicks,d3.format("d"),14,20,null,null,y100-1,y0+1);
}

const sigA=d=>d.top>=-45 && (d.top<=55 || (d.top===60 && d.lon>=5 && d.lon<=135)) && d.lon<165;
const sigD=d=>d.top>=-50 && (d.top<=55 || (d.top===60 && d.lon>=-10 && d.lon<=135)) && d.lon<165;

panel("a",902.6,358.5,247.5,cellsA,"delta",sigA);
panel("b",389,934,145,cellsB,"mmax");
panel("c",1373,934,145.3,cellsC,"pct");
panel("d",935,1554,247.7,cellsD,"delta",sigD);
panel("e",413,2130,142.3,cellsE,"mmax");
panel("f",1417,2130,142.7,cellsF,"pct");

label("a",244,17);label("b",3,732);label("c",986,732);label("d",276,1215);label("e",34,1930);label("f",1038,1930);
deltaPanel(0,0,"GFDL-ESM4 SSP2-4.5");
deltaPanel(32.4,1195.5,"GFDL-ESM4 SSP5-8.5");
mmaxPanel(832,762,827,834,1034);
mmaxPanel(847,1956,842,2031,2230);
pctPanel(1817,737,1811,825,1044);
pctPanel(1850,1931,1846,2020,2239);
</script></body></html>
